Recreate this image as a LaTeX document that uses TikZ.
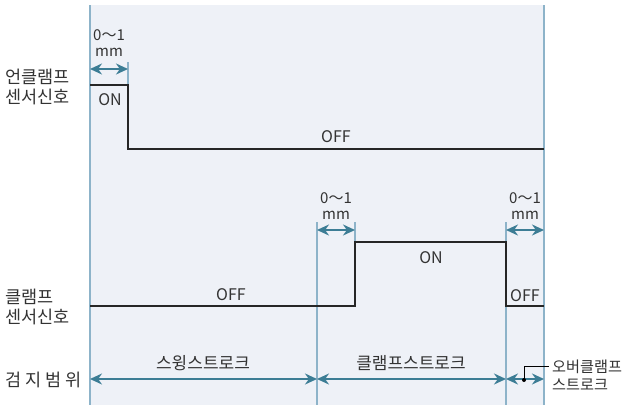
\documentclass[tikz,border=0pt]{standalone}
\usepackage{fontspec}
\setmainfont{Noto Sans CJK KR}
\usepackage{xcolor}
\usetikzlibrary{arrows.meta,positioning,calc}

\definecolor{panelbg}{HTML}{EEF1F7}
\definecolor{guide}{HTML}{8DB3C9}
\definecolor{dimarrow}{HTML}{3C7D95}
\definecolor{labelgray}{HTML}{333333}

\tikzset{
    guideline/.style={guide,line width=1.3pt},
    signal/.style={black!85,line width=2.6pt,line join=miter},
    dim/.style={dimarrow,line width=1.8pt,{Stealth[length=12pt,width=11pt]}-{Stealth[length=12pt,width=11pt]}},
    lbl/.style={labelgray,font=\fontsize{16}{17}\selectfont,inner sep=0pt},
    gaplbl/.style={lbl,align=center,font=\fontsize{15}{15.5}\selectfont},
    sidelbl/.style={lbl,align=left,anchor=west,font=\fontsize{17.5}{20}\selectfont}
}

\begin{document}
\begin{tikzpicture}[x=1pt,y=-1pt]

    \useasboundingbox (0,0) rectangle (632,405);
    \fill[panelbg] (90,5) rectangle (544,405);

    % guide lines
        \draw[guideline] (90,5) -- (90,405);
        \draw[guideline] (544,5) -- (544,405);
        \draw[guideline] (128,62) -- (128,85);
        \draw[guideline] (317,222) -- (317,405);
        \draw[guideline] (355,222) -- (355,242);
        \draw[guideline] (506,222) -- (506,405);

    % unclamp sensor
        \draw[signal] (90,85) -- (128,85) -- (128,149) -- (544,149);
        \node[lbl] (unon) at (110,100) {ON};
        \node[lbl] (unoff) at (336,137) {OFF};

    % clamp sensor
        \draw[signal] (90,306) -- (355,306) -- (355,242) -- (506,242) -- (506,306) -- (544,306);
        \node[lbl] (clon) at (431,258) {ON};
        \node[lbl] (cloff) at (231,295) {OFF};
        \node[lbl] (cloff2) at (525,296) {OFF};

    % 0~1 mm
        \draw[dim] (90,69) -- (128,69);
        \node[gaplbl] (gapa) at (109,43) {0〜1\\mm};
        \draw[dim] (317,230) -- (355,230);
        \node[gaplbl] (gapb) at (336,206) {0〜1\\mm};
        \draw[dim] (506,230) -- (544,230);
        \node[gaplbl] (gapc) at (525,206) {0〜1\\mm};

    % strokes
        \draw[dim] (90,379) -- (317,379);
        \draw[dim] (317,379) -- (506,379);
        \draw[dim] (506,379) -- (544,379);
        \node[lbl,font=\fontsize{17}{18}\selectfont] (swing) at (203,363) {스윙스트로크};
        \node[lbl,font=\fontsize{17}{18}\selectfont] (clamp) at (411,363) {클램프스트로크};

        \fill[black] (524,380) circle (2pt);
        \draw[black,line width=0.8pt] (524,380) -- (524,366) -- (549,366);
        \node[sidelbl,font=\fontsize{15.2}{18}\selectfont] (over) at (552,375) {오버클램프\\스트로크};

    % row labels
        \node[sidelbl] (unclamp) at (5,87) {언클램프\\센서신호};
        \node[sidelbl] (clampsig) at (5,307) {클램프\\센서신호};
        \node[sidelbl] (detect) at (5,380) {검 지 범 위};

\end{tikzpicture}
\end{document}
